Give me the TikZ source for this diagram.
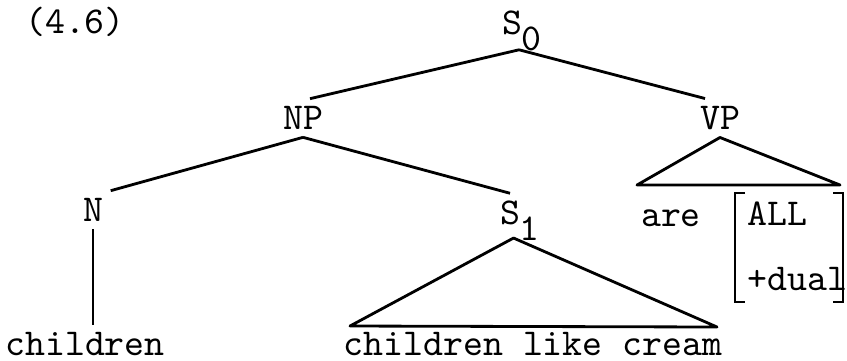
\documentclass[tikz,border=0pt]{standalone}
\usepackage{tikz}
\newcommand{\lowsub}[1]{\rlap{\smash{\raisebox{-4.5pt}{#1}}}}
\tikzset{
  lab/.style={font=\ttfamily\fontsize{10.8}{13}\selectfont,inner sep=2pt},
  br/.style={line width=0.8pt,line join=round},
  brk/.style={line width=0.6pt}
}
\begin{document}
\begin{tikzpicture}
\useasboundingbox (0,0) rectangle (8.47,3.6);
% labels of the tree
\node[lab] (ex) at (0.75,3.38) {(4.6)};
\node[lab] (s0) at (5.12,3.37) {S\lowsub{0}};
\node[lab] (np) at (3.03,2.42) {NP};
\node[lab] (vp) at (7.20,2.42) {VP};
\node[lab] (n) at (0.93,1.50) {N};
\node[lab] (s1) at (5.10,1.47) {S\lowsub{1}};
\node[lab] (leaf) at (0.85,0.16) {children};
\node[lab] (sent) at (5.33,0.16) {children like cream};
\node[lab] (are) at (6.71,1.42) {are};
\node[lab,anchor=base west] (all) at (7.40,1.35) {ALL};
\node[lab,anchor=base west] (dual) at (7.40,0.70) {+dual};
% apexes and triangle corners
\coordinate (s0b) at ([xshift=2pt,yshift=-2pt]s0.south);
\coordinate (s1b) at ([xshift=1pt,yshift=-1.5pt]s1.south);
\coordinate (vpl) at (6.37,1.75);
\coordinate (vpr) at (8.40,1.75);
\coordinate (s1l) at (3.50,0.34);
\coordinate (s1r) at (7.17,0.33);
% branches
\draw[br] (s0b) -- ([xshift=2pt]np.north);
\draw[br] (s0b) -- ([xshift=-0.15cm]vp.north);
\draw[br] (np.south) -- (n.north east);
\draw[br] (np.south) -- (s1.north);
\draw[br] (n.south) -- (n.south |- leaf.north);
\draw[br] (vp.south) -- (vpr) -- (vpl) -- cycle;
\draw[br] (s1b) -- (s1r) -- (s1l) -- cycle;
% feature bracket
\draw[brk] (7.45,1.67) -- (7.35,1.67) -- (7.35,0.58) -- (7.45,0.58);
\draw[brk] (8.33,1.67) -- (8.43,1.67) -- (8.43,0.58) -- (8.33,0.58);
\end{tikzpicture}
\end{document}
